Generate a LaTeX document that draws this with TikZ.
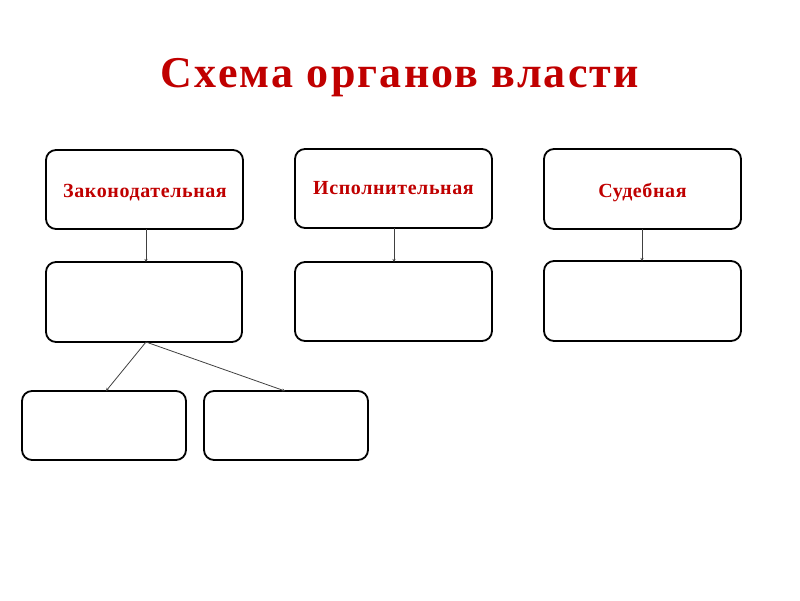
\documentclass[tikz,border=0pt]{standalone}
\usepackage{fontspec}
\setmainfont{Liberation Serif}
\usetikzlibrary{arrows.meta}
\definecolor{titlered}{HTML}{C00000}
\begin{document}
\begin{tikzpicture}[x=1pt,y=-1pt,
  box/.style={draw=black,line width=1.8pt,rounded corners=10pt,fill=white},
  lbl/.style={text=titlered,anchor=base,font=\addfontfeatures{LetterSpace=3}\bfseries\fontsize{20}{23}\selectfont},
  conn/.style={draw=black!75,line width=0.8pt,-{Stealth[length=3pt,width=3pt]}}]
\useasboundingbox (0,0) rectangle (800,600);
\node[text=titlered,anchor=base,font=\addfontfeatures{LetterSpace=5}\bfseries\fontsize{44}{50}\selectfont] (title) at (400,87) {Схема органов власти};
% top row
\draw[box] (46,150) rectangle (243,229);
\node[lbl] (zak) at (145,197) {Законодательная};
\draw[box] (295,149) rectangle (492,228);
\node[lbl] (isp) at (393.5,194) {Исполнительная};
\draw[box] (544,149) rectangle (741,229);
\node[lbl] (sud) at (642.5,197) {Судебная};
\coordinate (zb) at (146,229);
\coordinate (ib) at (394,228);
\coordinate (sb) at (642,229);
% second row
\draw[box] (46,262) rectangle (242,342);
\draw[box] (295,262) rectangle (492,341);
\draw[box] (544,261) rectangle (741,341);
\coordinate (zt) at (146,262);
\coordinate (it) at (394,262);
\coordinate (st) at (642,261);
\coordinate (zb2) at (146,342);
% third row
\draw[box] (22,391) rectangle (186,460);
\draw[box] (204,391) rectangle (368,460);
\coordinate (at) at (106,391);
\coordinate (bt) at (285,391);
\draw[conn] (zb) -- (zt);
\draw[conn] (ib) -- (it);
\draw[conn] (sb) -- (st);
\draw[conn] (zb2) -- (at);
\draw[conn] (zb2) -- (bt);
\end{tikzpicture}
\end{document}
